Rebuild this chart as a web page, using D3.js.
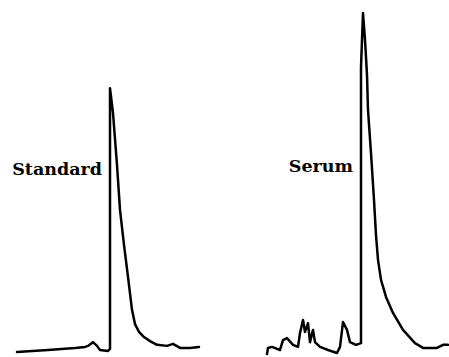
<!DOCTYPE html>
<html>
<head>
<meta charset="utf-8">
<script src="https://cdn.jsdelivr.net/npm/d3@7/dist/d3.min.js"></script>
<style>
  html, body { margin: 0; padding: 0; background: #fff; }
  svg { display: block; }
</style>
</head>
<body>
<svg id="chart" width="449" height="357"></svg>
<script>
// Traces: time (arbitrary units) and detector signal (% of serum peak)
const standardTime = [0.7, 3.8, 6.5, 7.5, 7.8, 8.3, 8.7, 9.0, 9.8, 10.0, 10.0, 10.3, 10.7, 11.0, 11.4, 11.8, 12.2, 12.5, 12.9, 13.4, 14.0, 14.7, 15.7, 16.3, 17.0, 18.0, 18.9];
const standardSignal = [0, 0.6, 1.2, 1.5, 1.8, 2.9, 1.8, 0.6, 0.3, 0.9, 77.6, 70.3, 55.0, 41.8, 31.5, 22.1, 12.4, 8.2, 5.9, 4.4, 3.2, 2.1, 1.8, 2.4, 1.2, 1.2, 1.5];

const serumTime = [25.7, 25.8, 26.2, 27.0, 27.3, 27.7, 28.3, 28.8, 29.0, 29.3, 29.5, 29.8, 30.0, 30.3, 30.5, 31.0, 31.8, 32.7, 33.0, 33.3, 33.7, 34.0, 34.6, 35.1, 35.1, 35.3, 35.5, 35.7, 35.8, 36.1, 36.4, 36.6, 36.8, 37.1, 37.6, 38.3, 39.3, 40.5, 41.3, 42.7, 43.3, 43.8];
const serumSignal = [-0.6, 1.2, 1.5, 0.6, 3.5, 4.1, 2.1, 1.5, 5.6, 9.4, 5.9, 8.5, 2.9, 6.5, 2.9, 1.5, 0.6, -0.3, 1.5, 8.8, 6.5, 2.9, 2.1, 2.6, 83.8, 99.7, 91.8, 81.5, 71.2, 58.5, 44.7, 34.4, 27.1, 21.2, 16.2, 11.5, 6.5, 2.6, 1.2, 1.2, 2.1, 2.1];

const labels = ["Standard", "Serum"];
const labelTime = [9.2, 34.3];
const labelSignal = [52, 53];

const svg = d3.select("#chart");
const x = d3.scaleLinear().domain([0, 43.9]).range([10, 449]);
const y = d3.scaleLinear().domain([0, 100]).range([352, 12]);

const line = d3.line().x(d => x(d[0])).y(d => y(d[1]));

const traces = [
  d3.zip(standardTime, standardSignal),
  d3.zip(serumTime, serumSignal)
];

svg.selectAll("path.trace")
  .data(traces)
  .join("path")
  .attr("class", "trace")
  .attr("d", line)
  .attr("fill", "none")
  .attr("stroke", "#000")
  .attr("stroke-width", 2.5)
  .attr("stroke-linejoin", "round")
  .attr("stroke-linecap", "round");

svg.selectAll("text.label")
  .data(labels)
  .join("text")
  .attr("class", "label")
  .attr("x", (d, i) => x(labelTime[i]))
  .attr("y", (d, i) => y(labelSignal[i]))
  .attr("text-anchor", "end")
  .attr("font-family", "DejaVu Serif, serif")
  .attr("font-weight", "bold")
  .attr("font-size", 17.5)
  .attr("fill", "#000")
  .text(d => d);
</script>
</body>
</html>
